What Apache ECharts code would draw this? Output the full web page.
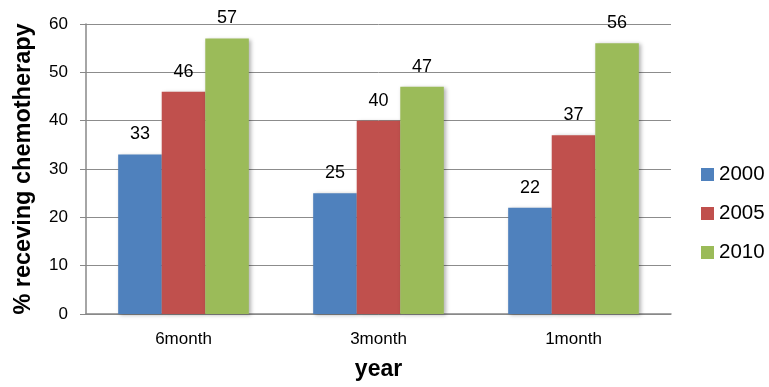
<!DOCTYPE html>
<html><head><meta charset="utf-8">
<script src="https://cdn.jsdelivr.net/npm/echarts@6/dist/echarts.min.js"></script>
<style>html,body{margin:0;padding:0;background:#fff}#c{width:769px;height:387px}</style>
</head><body><div id="c"></div>
<script>
const categories = ['6month', '3month', '1month'];
const seriesNames = ['2000', '2005', '2010'];
const values2000 = [33, 25, 22];
const values2005 = [46, 40, 37];
const values2010 = [57, 47, 56];
const colors = ['#4F81BD', '#C0504D', '#9BBB59'];
const allValues = [values2000, values2005, values2010];

const FONT = 'Liberation Sans, Arial, sans-serif';
const chart = echarts.init(document.getElementById('c'));
chart.setOption({
  animation: false,
  grid: { left: 86, right: 98, top: 24, bottom: 73 },
  legend: {
    orient: 'vertical', left: 701, top: 164, padding: 0, itemWidth: 13, itemHeight: 13, itemGap: 18,
    textStyle: { fontFamily: FONT, fontSize: 20.5, color: '#000' },
    icon: 'rect', data: seriesNames
  },
  xAxis: {
    type: 'category', data: categories,
    name: 'year', nameLocation: 'middle', nameGap: 44,
    nameTextStyle: { fontFamily: FONT, fontSize: 23, fontWeight: 'bold', color: '#000' },
    axisLine: { lineStyle: { color: '#888', width: 1.5 } },
    axisTick: { show: false },
    axisLabel: { fontFamily: FONT, fontSize: 17, color: '#000', margin: 17 }
  },
  yAxis: {
    type: 'value', min: 0, max: 60, interval: 10,
    name: '% receving chemotherapy', nameLocation: 'middle', nameGap: 50,
    nameTextStyle: { fontFamily: FONT, fontSize: 23.5, fontWeight: 'bold', color: '#000' },
    axisLine: { show: true, lineStyle: { color: '#888', width: 1.5 } },
    axisTick: { show: true, inside: false, length: 6, lineStyle: { color: '#888' } },
    splitLine: { lineStyle: { color: '#8c8c8c', width: 1 } },
    axisLabel: { fontFamily: FONT, fontSize: 17, color: '#000', margin: 18 }
  },
  series: seriesNames.map((n, i) => ({
    name: n, type: 'bar', data: allValues[i],
    barGap: '0%', barCategoryGap: '33%',
    itemStyle: { color: colors[i], shadowColor: 'rgba(0,0,0,0.3)', shadowBlur: 4, shadowOffsetX: 2, shadowOffsetY: 1 },
    label: { show: true, position: 'top', distance: 11, fontFamily: FONT, fontSize: 18, color: '#000' }
  }))
});
</script></body></html>
